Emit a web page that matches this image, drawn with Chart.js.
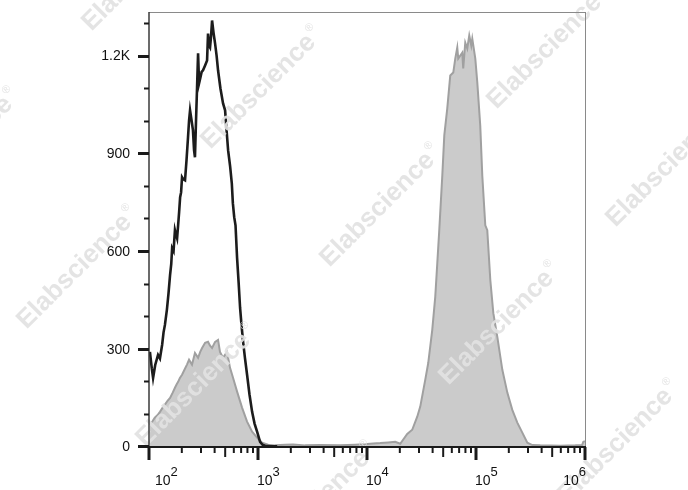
<!DOCTYPE html>
<html>
<head>
<meta charset="utf-8">
<script src="https://cdn.jsdelivr.net/npm/chart.js@4/dist/chart.umd.min.js"></script>
<style>
  html, body { margin: 0; padding: 0; background: #fff; }
  #wrap { width: 688px; height: 490px; }
</style>
</head>
<body>
<div id="wrap"><canvas id="histChart" width="688" height="490"></canvas></div>
<script>
// control (unstained) histogram, black outline
const ctrlX = [102,106,109,114,121,126,132,136,140,146,151,156,160,163,168,173,177,181,185,189,193,197,201,207,214,221,228,233,238,246,253,259,264,270,276,282,288,295,304,313,327,341,348,356,363,371,379,391,404,417,430,452,478,499,515,532,555,575,588,605,622,643,665,685,707,730,760,794,835,883,930,981,1045,1100,1161,1300,1500];
const ctrlY = [290,240,210,250,281,270,312,350,373,420,470,526,560,609,600,664,650,639,679,720,765,780,827,820,817,880,949,1000,1032,1000,971,910,888,1000,1102,1207,1115,1130,1150,1155,1170,1185,1268,1230,1225,1260,1308,1270,1237,1200,1155,1100,1053,1032,970,909,860,808,747,704,679,578,500,425,370,321,270,220,160,106,70,45,14,5,2,0,0];

// stained sample histogram, filled grey
const stainX = [102,108,113,120,126,133,140,148,156,165,173,179,185,192,201,212,223,233,248,264,282,295,307,327,348,362,379,404,430,448,478,500,520,554,591,643,714,794,883,981,1090,1238,1436,1775,2100,2707,3716,5675,7798,10040,11400,13220,15660,18160,20180,23390,26000,28900,30800,34220,36460,39690,42280,44130,46030,49070,51180,54480,58050,61880,64540,67330,68730,74790,76350,79710,83170,86740,90510,92450,98540,102800,109400,114200,121700,126900,135300,144200,156900,174400,193800,215300,239300,266000,295700,328900,389000,594000,816000,940000,966000,1000000];
const stainY = [66,78,88,96,106,118,128,140,149,165,180,190,198,210,220,236,251,266,251,287,272,290,302,318,321,310,302,321,327,290,272,282,290,241,210,168,119,76,45,27,11,5,3,5,6,3,4,3,5,7,9,10,12,14,8,38,51,91,122,204,256,358,459,562,664,832,955,1037,1139,1148,1191,1225,1191,1209,1161,1240,1222,1262,1231,1252,1191,1117,985,832,679,664,511,409,336,235,165,112,73,42,11,4,3,2,3,4,14,16];

const yTickValues = [0, 300, 600, 900, 1200];
const yTickLabels = ['0', '300', '600', '900', '1.2K'];
const xDecades = [2, 3, 4, 5, 6];

const toPoints = (xs, ys) => xs.map((x, i) => ({ x: x, y: ys[i] }));

// watermark centres
const marks = [[143,-30],[262,88],[381,206],[500,324],[619,442],[-41,150],[78,268],[197,386],[316,504],[548,48],[667,166]];

const watermarkPlugin = {
  id: 'watermark',
  afterDatasetsDraw(chart) {
    const ctx = chart.ctx;
    ctx.save();
    ctx.fillStyle = 'rgba(226,226,226,0.92)';
    marks.forEach(m => {
      ctx.save();
      ctx.translate(m[0], m[1]);
      ctx.rotate(-Math.PI / 4);
      ctx.font = 'bold 26px "Liberation Sans", Arial, sans-serif';
      ctx.textBaseline = 'middle';
      const w = ctx.measureText('Elabscience').width;
      ctx.fillText('Elabscience', -w / 2 - 5, 0);
      ctx.font = '11px "Liberation Sans", Arial, sans-serif';
      ctx.fillText('®', w / 2 - 3, -9);
      ctx.restore();
    });
    ctx.restore();
  }
};

const axesPlugin = {
  id: 'flowAxes',
  afterDraw(chart) {
    const { ctx, chartArea: a, scales: { x, y } } = chart;
    const line = (x1, y1, x2, y2) => { ctx.beginPath(); ctx.moveTo(x1, y1); ctx.lineTo(x2, y2); ctx.stroke(); };
    ctx.save();

    // frame
    ctx.strokeStyle = '#8a8a8a';
    ctx.lineWidth = 1;
    line(a.left, a.top + 0.5, a.right + 0.5, a.top + 0.5);
    line(a.right + 0.5, a.top, a.right + 0.5, a.bottom);

    ctx.strokeStyle = '#3a3a3a';
    ctx.lineWidth = 1.5;
    line(a.left, a.top, a.left, a.bottom);
    ctx.strokeStyle = '#1a1a1a';
    ctx.lineWidth = 2;
    line(a.left, a.bottom, a.right + 1, a.bottom);

    // y ticks
    ctx.strokeStyle = '#1a1a1a';
    for (let v = 0; v <= 1300; v += 100) {
      const py = Math.round(y.getPixelForValue(v)) + 0.5;
      const major = v % 300 === 0;
      ctx.lineWidth = major ? 3 : 2;
      line(a.left - (major ? 11 : 5), py, a.left, py);
    }
    ctx.fillStyle = '#111';
    ctx.font = '14px "Liberation Sans", Arial, sans-serif';
    ctx.textAlign = 'right';
    ctx.textBaseline = 'middle';
    yTickValues.forEach((v, i) => {
      ctx.fillText(yTickLabels[i], 130, y.getPixelForValue(v) + 1);
    });

    // x ticks
    xDecades.forEach(d => {
      const last = d === xDecades[xDecades.length - 1];
      for (let m = 1; m <= (last ? 1 : 9); m++) {
        const px = x.getPixelForValue(m * Math.pow(10, d));
        const len = m === 1 ? 13 : (m === 5 ? 10 : 6);
        ctx.lineWidth = m === 1 ? 3 : 2;
        line(px, a.bottom, px, a.bottom + len);
      }
    });

    // x labels 10^n
    ctx.textAlign = 'left';
    ctx.textBaseline = 'alphabetic';
    xDecades.forEach((d, i) => {
      const px = x.getPixelForValue(Math.pow(10, d));
      ctx.font = '14px "Liberation Sans", Arial, sans-serif';
      const wBase = ctx.measureText('10').width;
      ctx.font = '13px "Liberation Sans", Arial, sans-serif';
      const wSup = ctx.measureText(String(d)).width;
      let start = px - 1;
      if (i === 0) start = px + 6;
      if (i === xDecades.length - 1) start = px + 1 - wBase - wSup;
      ctx.font = '14px "Liberation Sans", Arial, sans-serif';
      ctx.fillText('10', start, 485);
      ctx.font = '13px "Liberation Sans", Arial, sans-serif';
      ctx.fillText(String(d), start + wBase, 476);
    });

    ctx.restore();
  }
};

new Chart(document.getElementById('histChart'), {
  type: 'line',
  data: {
    datasets: [
      {
        label: 'Control',
        data: toPoints(ctrlX, ctrlY),
        borderColor: '#1c1c1c',
        borderWidth: 2.6,
        fill: false,
        order: 0
      },
      {
        label: 'Stained',
        data: toPoints(stainX, stainY),
        borderColor: '#a0a0a0',
        borderWidth: 2,
        backgroundColor: '#cbcbcb',
        fill: 'origin',
        order: 1
      }
    ]
  },
  options: {
    responsive: false,
    animation: false,
    layout: { padding: { left: 149, right: 103, top: 12, bottom: 43 } },
    elements: { point: { radius: 0 }, line: { tension: 0 } },
    scales: {
      x: { type: 'logarithmic', min: 100, max: 1000000, display: false },
      y: { type: 'linear', min: -2, max: 1334, display: false }
    },
    plugins: {
      legend: { display: false },
      tooltip: { enabled: false }
    }
  },
  plugins: [watermarkPlugin, axesPlugin]
});
</script>
</body>
</html>
